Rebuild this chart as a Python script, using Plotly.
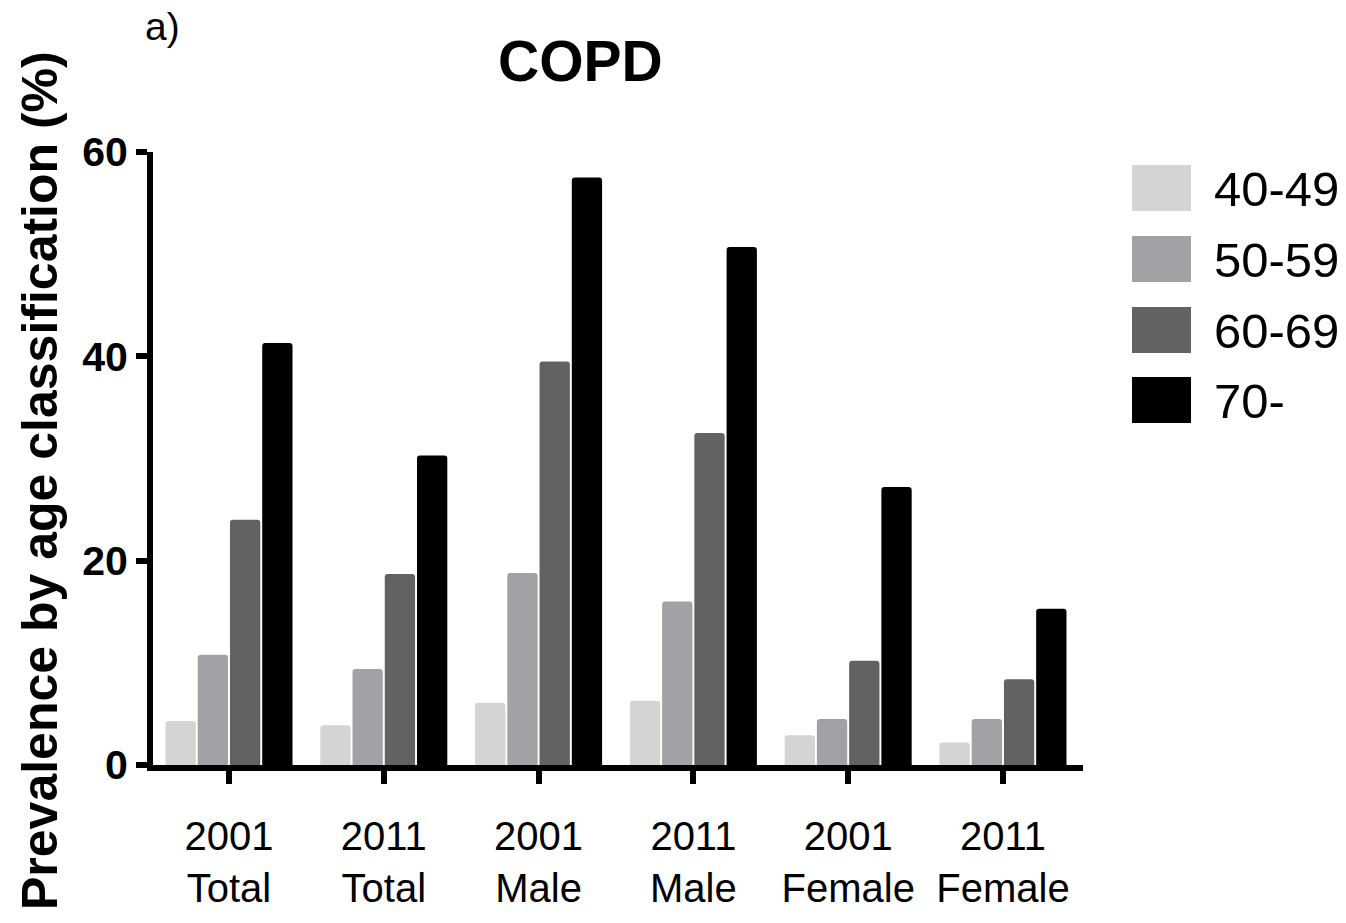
import plotly.graph_objects as go

# Prevalence of COPD (%) by age band, for each survey year / sex group
groups = ["2001<br>Total", "2011<br>Total", "2001<br>Male",
          "2011<br>Male", "2001<br>Female", "2011<br>Female"]
age_bands = ["40-49", "50-59", "60-69", "70-"]

age_40_49 = [4.3, 3.9, 6.1, 6.3, 2.9, 2.2]
age_50_59 = [10.8, 9.4, 18.8, 16.0, 4.5, 4.5]
age_60_69 = [24.0, 18.7, 39.5, 32.5, 10.2, 8.4]
age_70_up = [41.3, 30.3, 57.5, 50.7, 27.2, 15.3]

series = [age_40_49, age_50_59, age_60_69, age_70_up]
colors = ["#d4d4d4", "#a2a2a6", "#626262", "#000000"]

FONT = "Liberation Sans, Arial, Helvetica, sans-serif"
W, H = 1346, 923
PL, PR, PT, PB = 153, 1083, 152, 765  # plot area in pixels


def px(x):
    return (x - PL) / (PR - PL)


def py(y):
    return (PB - y) / (PB - PT)


fig = go.Figure()
xs = list(range(len(groups)))
for name, vals, col in zip(age_bands, series, colors):
    fig.add_trace(go.Bar(
        x=xs, y=vals, name=name,
        marker=dict(color=col, line=dict(width=0)),
        showlegend=False,
    ))

# Legend: large rounded swatches with labels at the right
shapes = []
annotations = []
swatch_tops = [165, 236, 307, 377]
for name, col, top in zip(age_bands, colors, swatch_tops):
    x0, x1 = px(1132), px(1191)
    y0, y1 = py(top), py(top + 46)
    shapes.append(dict(type="rect", xref="paper", yref="paper",
                       x0=x0, x1=x1, y0=y1, y1=y0,
                       fillcolor=col, line=dict(width=0)))
    annotations.append(dict(text=name, xref="paper", yref="paper",
                            x=px(1212), y=py(top + 24), xanchor="left",
                            yanchor="middle", showarrow=False,
                            font=dict(family=FONT, size=49, color="black")))

annotations.append(dict(text="<b>COPD</b>", xref="paper", yref="paper",
                        x=px(580), y=py(61), xanchor="center", yanchor="middle",
                        showarrow=False,
                        font=dict(family=FONT, size=57, color="black")))
annotations.append(dict(text="a)", xref="paper", yref="paper",
                        x=px(162), y=py(27), xanchor="center", yanchor="middle",
                        showarrow=False,
                        font=dict(family=FONT, size=39, color="black")))
annotations.append(dict(text="<b>Prevalence by age classification (%)</b>",
                        xref="paper", yref="paper", textangle=-90,
                        x=px(40), y=py(481), xanchor="center", yanchor="middle",
                        showarrow=False,
                        font=dict(family=FONT, size=50, color="black")))

fig.update_layout(
    width=W, height=H,
    margin=dict(l=PL, r=W - PR, t=PT, b=H - PB, pad=0, autoexpand=False),
    paper_bgcolor="white", plot_bgcolor="white",
    barmode="group", bargap=0.167, bargroupgap=0.06,
    barcornerradius=3,
    shapes=shapes, annotations=annotations,
    font=dict(family=FONT, color="black"),
)
fig.update_xaxes(
    range=[-0.491, 5.517], tickmode="array", tickvals=xs, ticktext=groups,
    showline=True, linewidth=6, linecolor="black",
    ticks="outside", ticklen=13, tickwidth=6, tickcolor="black",
    ticklabelstandoff=18, automargin=False,
    tickfont=dict(family=FONT, size=40, color="black"),
    showgrid=False, zeroline=False,
)
fig.update_yaxes(
    range=[0, 60], tickmode="array", tickvals=[0, 20, 40, 60],
    ticktext=["<b>0</b>", "<b>20</b>", "<b>40</b>", "<b>60</b>"],
    showline=True, linewidth=6, linecolor="black",
    ticks="outside", ticklen=11, tickwidth=6, tickcolor="black",
    automargin=False,
    tickfont=dict(family=FONT, size=41, color="black"),
    showgrid=False, zeroline=False,
)

fig.write_html("out.html")
